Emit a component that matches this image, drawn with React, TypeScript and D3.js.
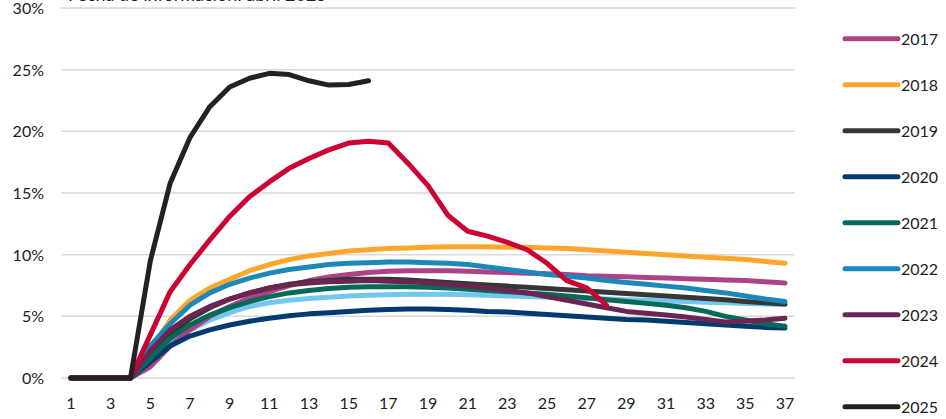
import React, {useEffect, useRef} from 'react';
import * as d3 from 'd3';

const months = d3.range(1, 38);
const yTicks = [0, 5, 10, 15, 20, 25, 30];
const xTicks = d3.range(1, 38, 2);

const years = ['2016', '2017', '2018', '2019', '2020', '2021', '2022', '2023', '2024', '2025'];
const colors = ['#72c7ec', '#ad4287', '#fca72b', '#363636', '#013a6e', '#076a59', '#1c88b8', '#6b2553', '#cc0233', '#222222'];

const s2016 = [0,0,0,0,1.2,2.8,3.9,4.7,5.3,5.8,6.1,6.3,6.45,6.55,6.65,6.7,6.75,6.8,6.8,6.8,6.75,6.7,6.65,6.6,6.55,6.5,6.45,6.4,6.35,6.3,6.25,6.2,6.15,6.1,6.05,6.0,5.95];
const s2017 = [0,0,0,0,0.9,2.6,3.9,5.0,5.8,6.5,7.0,7.5,7.9,8.2,8.4,8.55,8.65,8.7,8.7,8.7,8.65,8.6,8.55,8.5,8.45,8.4,8.3,8.25,8.2,8.15,8.1,8.05,8.0,7.95,7.9,7.8,7.7];
const s2018 = [0,0,0,0,2.3,4.7,6.3,7.3,8.0,8.7,9.2,9.6,9.9,10.1,10.3,10.4,10.5,10.55,10.6,10.65,10.65,10.65,10.6,10.6,10.55,10.5,10.4,10.3,10.2,10.1,10.0,9.9,9.8,9.7,9.6,9.45,9.3];
const s2019 = [0,0,0,0,1.8,3.5,4.8,5.7,6.4,6.9,7.3,7.6,7.8,7.9,8.0,8.0,8.0,7.95,7.85,7.75,7.65,7.55,7.45,7.35,7.25,7.15,7.05,6.95,6.85,6.75,6.65,6.55,6.45,6.35,6.2,6.1,6.0];
const s2020 = [0,0,0,0,1.3,2.6,3.4,3.9,4.3,4.6,4.85,5.05,5.2,5.3,5.4,5.5,5.55,5.6,5.6,5.55,5.5,5.4,5.35,5.25,5.15,5.05,4.95,4.85,4.75,4.7,4.6,4.5,4.4,4.3,4.2,4.1,4.05];
const s2021 = [0,0,0,0,1.6,3.2,4.3,5.1,5.7,6.2,6.6,6.9,7.1,7.25,7.35,7.4,7.4,7.4,7.35,7.3,7.2,7.1,7.0,6.9,6.8,6.65,6.5,6.35,6.2,6.05,5.9,5.7,5.4,5.0,4.7,4.4,4.2];
const s2022 = [0,0,0,0,2.6,4.4,5.9,6.9,7.6,8.1,8.5,8.8,9.0,9.2,9.3,9.35,9.4,9.4,9.35,9.3,9.2,9.0,8.8,8.6,8.4,8.25,8.1,7.9,7.75,7.6,7.45,7.3,7.1,6.9,6.65,6.4,6.2];
const s2023 = [0,0,0,0,2.2,3.9,5.0,5.8,6.4,6.9,7.3,7.55,7.7,7.8,7.85,7.9,7.85,7.8,7.7,7.6,7.45,7.3,7.1,6.9,6.6,6.3,6.0,5.7,5.4,5.25,5.1,4.95,4.75,4.55,4.6,4.7,4.85];
const s2024 = [0,0,0,0,3.5,7.0,9.2,11.2,13.1,14.7,15.9,17.0,17.8,18.5,19.05,19.2,19.05,17.4,15.6,13.2,11.9,11.5,11.0,10.4,9.3,7.9,7.3,5.9];
const s2025 = [0,0,0,0,9.5,15.8,19.5,22.0,23.6,24.3,24.7,24.6,24.1,23.75,23.8,24.1];

const seriesValues = [s2016, s2017, s2018, s2019, s2020, s2021, s2022, s2023, s2024, s2025];
const legendYears = years.slice(1);

export default function App() {
    const svgRef = useRef<SVGSVGElement>(null);

    useEffect(() => {
        const svg = d3.select(svgRef.current);
        svg.selectAll('*').remove();
        const x = d3.scaleLinear().domain([1, 37]).range([71, 785]);
        const y = d3.scaleLinear().domain([0, 30]).range([378, 8]);
        const font = 'Lato, "Open Sans", sans-serif';

        svg.append('text')
            .attr('x', 68).attr('y', 1)
            .attr('font-family', font).attr('font-size', 18).attr('fill', '#222')
            .text('Fecha de información: abril 2025');

        const grid = svg.append('g');
        grid.selectAll('line').data(yTicks).join('line')
            .attr('x1', 61).attr('x2', 795)
            .attr('y1', d => y(d)).attr('y2', d => y(d))
            .attr('stroke', '#d9d9d9').attr('stroke-width', 1.5);

        svg.append('g').selectAll('text').data(yTicks).join('text')
            .attr('x', 44).attr('y', d => y(d) + 6)
            .attr('text-anchor', 'end')
            .attr('font-family', font).attr('font-size', 16).attr('fill', '#222')
            .text(d => d + '%');

        svg.append('g').selectAll('text').data(xTicks).join('text')
            .attr('x', d => x(d)).attr('y', 409)
            .attr('text-anchor', 'middle')
            .attr('font-family', font).attr('font-size', 16).attr('fill', '#222')
            .text(d => d);

        const myLine = d3.line<number>()
            .x((v, i) => x(months[i]))
            .y(v => y(v));

        svg.append('g').selectAll('path').data(seriesValues).join('path')
            .attr('d', d => myLine(d))
            .attr('fill', 'none')
            .attr('stroke', (d, i) => colors[i])
            .attr('stroke-width', 5)
            .attr('stroke-linejoin', 'round')
            .attr('stroke-linecap', 'round');

        const legend = svg.append('g').selectAll('g').data(legendYears).join('g')
            .attr('transform', (d, i) => `translate(0,${38.7 + i * 46})`);
        legend.append('line')
            .attr('x1', 845).attr('x2', 898)
            .attr('stroke', (d, i) => colors[i + 1])
            .attr('stroke-width', 5)
            .attr('stroke-linecap', 'round');
        legend.append('text')
            .attr('x', 901).attr('y', 6)
            .attr('font-family', font).attr('font-size', 16).attr('fill', '#222')
            .text(d => d);
    }, []);

    return (
        <svg ref={svgRef} width={946} height={419}
             style={{position: 'absolute', left: 0, top: 0, background: '#fff'}} />
    );
}
